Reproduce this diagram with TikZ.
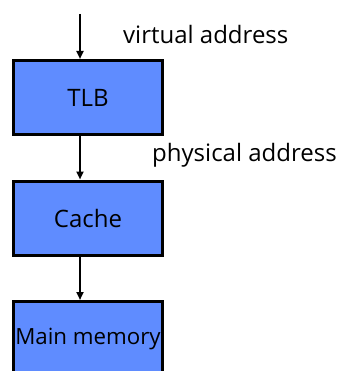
\documentclass[tikz,border=0pt]{standalone}
\usepackage{fontspec}
\setmainfont{Open Sans}
\usetikzlibrary{arrows.meta}
\definecolor{boxblue}{RGB}{95,140,255}
\tikzset{
  membox/.style={draw=black, line width=3pt, fill=boxblue, minimum width=149pt, minimum height=74pt, inner sep=0pt, font=\fontsize{24}{28}\selectfont},
  lbl/.style={inner sep=0pt, font=\fontsize{24}{28}\selectfont, anchor=west},
  conn/.style={line width=2pt, -{Triangle[length=8pt,width=7pt]}}
}
\begin{document}
\begin{tikzpicture}[x=1pt,y=-1pt]
\useasboundingbox (0,0) rectangle (337,371);
\clip (0,0) rectangle (337,371);
\node[membox] (tlb) at (88,97.5) {TLB};
\node[membox] (cache) at (88,218) {Cache};
\node[membox, minimum height=75pt, font=\fontsize{22.3}{26}\selectfont] (mem) at (88,339) {Main memory};
\coordinate (top) at (80,14);
\node[lbl] (va) at (123,35) {virtual address};
\node[lbl] (pa) at (152,155) {physical address};
\draw[conn] (top) -- (top |- tlb.north);
\draw[conn] (top |- tlb.south) -- (top |- cache.north);
\draw[conn] (top |- cache.south) -- (top |- mem.north);
\end{tikzpicture}
\end{document}
